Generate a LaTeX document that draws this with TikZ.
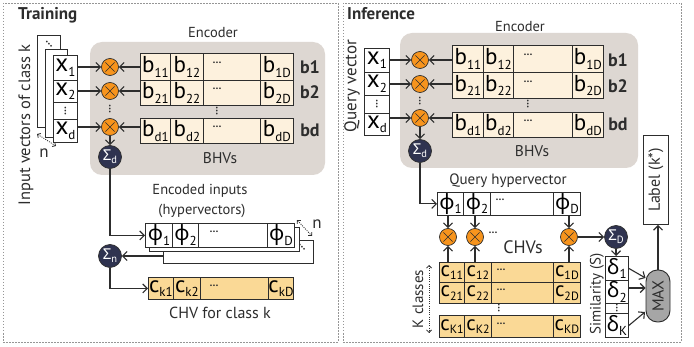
\documentclass[tikz,border=0pt]{standalone}
\usepackage{fontspec}
\setmainfont{PT Sans}
\newfontfamily\gk{Noto Sans}
\usetikzlibrary{arrows.meta,calc}
\definecolor{ink}{RGB}{45,45,45}
\definecolor{encbg}{RGB}{221,215,210}
\definecolor{bfill}{RGB}{253,241,221}
\definecolor{cfill}{RGB}{250,217,150}
\definecolor{orng}{RGB}{247,148,29}
\definecolor{navy}{RGB}{47,51,80}
\definecolor{maxg}{RGB}{166,166,166}
\definecolor{brd}{RGB}{150,150,150}
\newcommand\vsub[3][23]{{\fontsize{#1}{#1}\selectfont #2}\raisebox{-4.5pt}{\fontsize{13}{13}\selectfont #3}}
\newcommand\csub[2]{{\fontsize{21}{21}\selectfont #1}\raisebox{-3.5pt}{\fontsize{12}{12}\selectfont #2}}
\newcommand\sig[1]{{\gk\fontsize{15}{15}\selectfont Σ}\raisebox{-3pt}{\fontsize{10.5}{10.5}\selectfont #1}}
\begin{document}
\begin{tikzpicture}[x=1pt,y=-1pt,
  cell/.style={draw=ink,line width=0.9pt,inner sep=0pt,anchor=north west,fill=white},
  bcell/.style={cell,fill=bfill},
  ccell/.style={cell,fill=cfill},
  arr/.style={draw=ink,line width=1.1pt,-{Straight Barb[length=4.5pt,width=9pt,line width=1.1pt]}},
  dimarr/.style={draw=ink,line width=0.8pt,dash pattern=on 1pt off 1.2pt,{Straight Barb[length=2.5pt,width=5pt,line width=0.8pt]}-{Straight Barb[length=2.5pt,width=5pt,line width=0.8pt]}},
  mul/.style={circle,fill=orng,draw=ink,line width=0.7pt,minimum size=17pt,inner sep=0pt,
    path picture={\draw[ink,line width=0.6pt]
      ($(path picture bounding box.center)+(-4.6pt,-4.6pt)$) -- ($(path picture bounding box.center)+(4.6pt,4.6pt)$)
      ($(path picture bounding box.center)+(-4.6pt,4.6pt)$) -- ($(path picture bounding box.center)+(4.6pt,-4.6pt)$);}},
  sum/.style={circle,fill=navy,draw=ink,line width=0.7pt,minimum size=23pt,inner sep=0pt,text=white},
  txt/.style={inner sep=0pt,font=\fontsize{14.5}{14.5}\selectfont,text=ink},
  lbl/.style={inner sep=0pt,font=\fontsize{18}{18}\selectfont\bfseries,text=ink},
  dts/.style={inner sep=0pt,font=\fontsize{11}{11}\selectfont\bfseries,text=ink},
  panel/.style={draw=brd,line width=0.8pt,dash pattern=on 1.5pt off 1.5pt}
]
\useasboundingbox (0,0) rectangle (694,347);
\fill[white] (0,0) rectangle (694,347);
% panels
\draw[panel] (3,3) rectangle (338,342);
\draw[panel] (343,3) rectangle (681,342);
\node[anchor=west,inner sep=0pt,font=\fontsize{17}{17}\selectfont\bfseries,text=ink] (ttrain) at (18,15) {Training};
\node[anchor=west,inner sep=0pt,font=\fontsize{17}{17}\selectfont\bfseries,text=ink] (tinf) at (347,14) {Inference};

% ================= LEFT: TRAINING =================
\fill[encbg,rounded corners=12pt] (90,42) rectangle (325,175);
\node[txt] (lenc) at (213,33) {Encoder};
\node[txt,font=\fontsize{15.5}{15.5}\selectfont] (lbhv) at (220,158) {BHVs};
\node[txt,font=\fontsize{16.5}{16.5}\selectfont,rotate=90] (linput) at (26,125) {Input vectors of class k};

% input stack
\node[cell,minimum width=23pt,minimum height=92pt] (lback) at (37,35) {};
\node[dts,rotate=-45] (lbackdots) at (49,44) {…};
\node[cell,minimum width=22pt,minimum height=88pt] (lmid) at (45,49) {};
\node[cell,minimum width=24pt,minimum height=25pt] (lx1) at (53,55) {\vsub[25]{x}{1}};
\node[cell,minimum width=24pt,minimum height=22pt] (lx2) at (53,80) {\vsub[25]{x}{2}};
\node[cell,minimum width=24pt,minimum height=17pt] (lx3) at (53,102) {};
\node[dts,rotate=90] (lx3d) at (lx3) {…};
\node[cell,minimum width=24pt,minimum height=23pt] (lxd) at (53,119) {\vsub[25]{x}{d}};
\draw[dimarr] (37,134) coordinate (ln1) -- (56,146) coordinate (ln2);
\node[txt,font=\fontsize{17}{17}\selectfont] (lnlab) at (44,153) {n};

% multipliers
\node[mul] (lm1) at (110,67) {};
\node[mul] (lm2) at (110,91) {};
\node[mul] (lmd) at (110,127) {};
\node[dts,rotate=90] (lmdots) at (110,109) {…};
\node[sum] (lsd) at (110,157) {\sig{d}};

% BHV rows
\node[bcell,minimum width=30pt,minimum height=27pt] (lb11) at (140,53) {\vsub{b}{11}};
\node[bcell,minimum width=33pt,minimum height=27pt] (lb12) at (170,53) {\vsub{b}{12}};
\node[bcell,minimum width=57pt,minimum height=27pt] (lb13) at (203,53) {};
\node[bcell,minimum width=33pt,minimum height=27pt] (lb1D) at (260,53) {\vsub{b}{1D}};
\node[bcell,minimum width=30pt,minimum height=25pt] (lb21) at (140,80) {\vsub{b}{21}};
\node[bcell,minimum width=33pt,minimum height=25pt] (lb22) at (170,80) {\vsub{b}{22}};
\node[bcell,minimum width=57pt,minimum height=25pt] (lb23) at (203,80) {};
\node[bcell,minimum width=33pt,minimum height=25pt] (lb2D) at (260,80) {\vsub{b}{2D}};
\node[bcell,minimum width=30pt,minimum height=25pt] (lbd1) at (140,118) {\vsub{b}{d1}};
\node[bcell,minimum width=33pt,minimum height=25pt] (lbd2) at (170,118) {\vsub{b}{d2}};
\node[bcell,minimum width=57pt,minimum height=25pt] (lbd3) at (203,118) {};
\node[bcell,minimum width=33pt,minimum height=25pt] (lbdD) at (260,118) {\vsub{b}{dD}};
\node[dts] (lb13d) at ([xshift=14pt,yshift=4pt]lb13.west) {…};
\node[dts] (lb23d) at ([xshift=14pt,yshift=4pt]lb23.west) {…};
\node[dts] (lbd3d) at ([xshift=14pt,yshift=4pt]lbd3.west) {…};
\node[dts,rotate=90] (lbvd) at (217,111) {…};
\node[lbl] (lbl1) at (310,67) {b1};
\node[lbl] (lbl2) at (310,92) {b2};
\node[lbl] (lbld) at (310,130) {bd};

\draw[arr] (lx1.east |- lm1) -- (lm1);
\draw[arr] (lx2.east |- lm2) -- (lm2);
\draw[arr] (lxd.east |- lmd) -- (lmd);
\draw[arr] (lb11.west |- lm1) -- (lm1);
\draw[arr] (lb21.west |- lm2) -- (lm2);
\draw[arr] (lbd1.west |- lmd) -- (lmd);
\draw[arr] (lmd) -- (lsd);

% encoded inputs
\node[txt] (lenc1) at (200,191) {Encoded inputs};
\node[txt] (lenc2) at (202,211) {(hypervectors)};
\node[cell,minimum width=150pt,minimum height=23pt] (lay3) at (163,240) {};
\node[cell,minimum width=150pt,minimum height=24pt] (lay2) at (149,227) {};
\node[cell,minimum width=27pt,minimum height=24pt] (lp1) at (145,223) {\vsub[21]{\gk ϕ}{1}};
\node[cell,minimum width=26pt,minimum height=24pt] (lp2) at (172,223) {\vsub[21]{\gk ϕ}{2}};
\node[cell,minimum width=69pt,minimum height=24pt] (lp3) at (198,223) {};
\node[cell,minimum width=27pt,minimum height=24pt] (lpD) at (267,223) {\vsub[21]{\gk ϕ}{D}};
\node[dts] (lp3d) at ([xshift=16pt,yshift=4pt]lp3.west) {…};
\node[dts,rotate=-45] (laydots) at (302,247) {…};
\draw[dimarr] (297,220) coordinate (lm1a) -- (312,236) coordinate (lm1b);
\node[txt,font=\fontsize{17}{17}\selectfont] (lnlab2) at (317,224) {n};
\draw[arr] (lsd) |- (lp1.west);

\node[sum] (lsn) at (110,256) {\sig{n}};
\draw[arr] (lay3.west |- lsn) -- (lsn);

\node[ccell,minimum width=25pt,minimum height=22pt] (lc1) at (148,277) {\vsub{c}{k1}};
\node[ccell,minimum width=27pt,minimum height=22pt] (lc2) at (173,277) {\vsub{c}{k2}};
\node[ccell,minimum width=68pt,minimum height=22pt] (lc3) at (200,277) {};
\node[ccell,minimum width=25pt,minimum height=22pt] (lcD) at (268,277) {\vsub{c}{kD}};
\node[dts] (lc3d) at ([xshift=14pt,yshift=3pt]lc3.west) {…};
\draw[arr] (lsn) |- (lc1.west);
\node[txt,font=\fontsize{16}{16}\selectfont] (lchv) at (220,313) {CHV for class k};

% ================= RIGHT: INFERENCE =================
\fill[encbg,rounded corners=12pt] (400,33) rectangle (638,168);
\node[txt] (renc) at (520,27) {Encoder};
\node[txt,font=\fontsize{15.5}{15.5}\selectfont] (rbhv) at (532,151) {BHVs};
\node[txt,font=\fontsize{17}{17}\selectfont,rotate=90] (rquery) at (352,86) {Query vector};

\node[cell,minimum width=25pt,minimum height=24pt] (rx1) at (364,48) {\vsub[25]{x}{1}};
\node[cell,minimum width=25pt,minimum height=23pt] (rx2) at (364,72) {\vsub[25]{x}{2}};
\node[cell,minimum width=25pt,minimum height=18pt] (rx3) at (364,95) {};
\node[dts,rotate=90] (rx3d) at (rx3) {…};
\node[cell,minimum width=25pt,minimum height=22pt] (rxd) at (364,113) {\vsub[25]{x}{d}};

\node[mul] (rm1) at (420,60) {};
\node[mul] (rm2) at (420,84) {};
\node[mul] (rmd) at (420,118) {};
\node[dts,rotate=90] (rmdots) at (420,101) {…};
\node[sum] (rsd) at (420,151) {\sig{d}};

\node[bcell,minimum width=31pt,minimum height=27pt] (rb11) at (452,45) {\vsub{b}{11}};
\node[bcell,minimum width=30pt,minimum height=27pt] (rb12) at (483,45) {\vsub{b}{12}};
\node[bcell,minimum width=59pt,minimum height=27pt] (rb13) at (513,45) {};
\node[bcell,minimum width=31pt,minimum height=27pt] (rb1D) at (572,45) {\vsub{b}{1D}};
\node[bcell,minimum width=31pt,minimum height=26pt] (rb21) at (452,72) {\vsub{b}{21}};
\node[bcell,minimum width=30pt,minimum height=26pt] (rb22) at (483,72) {\vsub{b}{22}};
\node[bcell,minimum width=59pt,minimum height=26pt] (rb23) at (513,72) {};
\node[bcell,minimum width=31pt,minimum height=26pt] (rb2D) at (572,72) {\vsub{b}{2D}};
\node[bcell,minimum width=31pt,minimum height=25pt] (rbd1) at (452,112) {\vsub{b}{d1}};
\node[bcell,minimum width=30pt,minimum height=25pt] (rbd2) at (483,112) {\vsub{b}{d2}};
\node[bcell,minimum width=59pt,minimum height=25pt] (rbd3) at (513,112) {};
\node[bcell,minimum width=31pt,minimum height=25pt] (rbdD) at (572,112) {\vsub{b}{dD}};
\node[dts] (rb13d) at ([xshift=15pt,yshift=4pt]rb13.west) {…};
\node[dts] (rb23d) at ([xshift=15pt,yshift=4pt]rb23.west) {…};
\node[dts] (rbd3d) at ([xshift=15pt,yshift=4pt]rbd3.west) {…};
\node[dts,rotate=90] (rbvd) at (528,104) {…};
\node[lbl] (rbl1) at (618,60) {b1};
\node[lbl] (rbl2) at (618,86) {b2};
\node[lbl] (rbld) at (618,124) {bd};

\draw[arr] (rx1.east |- rm1) -- (rm1);
\draw[arr] (rx2.east |- rm2) -- (rm2);
\draw[arr] (rxd.east |- rmd) -- (rmd);
\draw[arr] (rb11.west |- rm1) -- (rm1);
\draw[arr] (rb21.west |- rm2) -- (rm2);
\draw[arr] (rbd1.west |- rmd) -- (rmd);
\draw[arr] (rmd) -- (rsd);

% query hypervector
\node[txt,font=\fontsize{15}{15}\selectfont] (rqh) at (508,181) {Query hypervector};
\node[cell,minimum width=26pt,minimum height=23pt] (qp1) at (437,192) {\vsub[21]{\gk ϕ}{1}};
\node[cell,minimum width=27pt,minimum height=23pt] (qp2) at (463,192) {\vsub[21]{\gk ϕ}{2}};
\node[cell,minimum width=63pt,minimum height=23pt] (qp3) at (490,192) {};
\node[cell,minimum width=27pt,minimum height=23pt] (qpD) at (553,192) {\vsub[21]{\gk ϕ}{D}};
\node[dts] (qp3d) at ([xshift=10pt,yshift=4pt]qp3.west) {…};
\draw[arr] (rsd) |- (qp1.west);

\node[mul] (cm1) at (448,237) {};
\node[mul] (cm2) at (475,237) {};
\node[mul] (cmD) at (569,237) {};
\node[dts] (cmdots) at (493,233) {…};
\node[txt,font=\fontsize{18}{18}\selectfont] (rchvs) at (523,247) {CHVs};

\node[ccell,minimum width=25pt,minimum height=20pt] (cc11) at (439,262) {\csub{c}{11}};
\node[ccell,minimum width=27pt,minimum height=20pt] (cc12) at (464,262) {\csub{c}{12}};
\node[ccell,minimum width=62pt,minimum height=20pt] (cc13) at (491,262) {};
\node[ccell,minimum width=27pt,minimum height=20pt] (cc1D) at (553,262) {\csub{c}{1D}};
\node[ccell,minimum width=25pt,minimum height=21pt] (cc21) at (439,282) {\csub{c}{21}};
\node[ccell,minimum width=27pt,minimum height=21pt] (cc22) at (464,282) {\csub{c}{22}};
\node[ccell,minimum width=62pt,minimum height=21pt] (cc23) at (491,282) {};
\node[ccell,minimum width=27pt,minimum height=21pt] (cc2D) at (553,282) {\csub{c}{2D}};
\node[ccell,minimum width=25pt,minimum height=22pt] (ccK1) at (439,315) {\csub{c}{K1}};
\node[ccell,minimum width=27pt,minimum height=22pt] (ccK2) at (464,315) {\csub{c}{K2}};
\node[ccell,minimum width=62pt,minimum height=22pt] (ccK3) at (491,315) {};
\node[ccell,minimum width=27pt,minimum height=22pt] (ccKD) at (553,315) {\csub{c}{KD}};
\node[dts] (cc13d) at ([xshift=10pt,yshift=3pt]cc13.west) {…};
\node[dts] (cc23d) at ([xshift=10pt,yshift=3pt]cc23.west) {…};
\node[dts] (ccK3d) at ([xshift=10pt,yshift=3pt]ccK3.west) {…};
\node[dts,rotate=90] (ccvd) at (499,308) {…};

\draw[arr] (qp1.south -| cm1) -- (cm1);
\draw[arr] (qp2.south -| cm2) -- (cm2);
\draw[arr] (qpD.south -| cmD) -- (cmD);
\draw[arr] (cc11.north -| cm1) -- (cm1);
\draw[arr] (cc12.north -| cm2) -- (cm2);
\draw[arr] (cc1D.north -| cmD) -- (cmD);

\node[txt,font=\fontsize{15}{15}\selectfont,rotate=90] (rkcl) at (418,299) {K classes};
\draw[dimarr] (429,265) coordinate (rk1) -- (429,333) coordinate (rk2);

% similarity
\node[sum] (sD) at (616,237) {\sig{D}};
\draw[arr] (cmD) -- (sD);
\node[cell,minimum width=23pt,minimum height=24pt] (dl1) at (605,256) {\vsub[21]{\gk δ}{1}};
\node[cell,minimum width=23pt,minimum height=23pt] (dl2) at (605,280) {\vsub[21]{\gk δ}{2}};
\node[cell,minimum width=23pt,minimum height=10pt] (dl3) at (605,303) {};
\node[dts,rotate=90] (dl3d) at (dl3) {…};
\node[cell,minimum width=23pt,minimum height=24pt] (dlK) at (605,313) {\vsub[21]{\gk δ}{K}};
\draw[arr] (sD) -- (sD |- dl1.north);
\node[txt,font=\fontsize{15}{15}\selectfont,rotate=90] (rsim) at (597,294) {Similarity (S)};

\node[draw=ink,line width=0.9pt,fill=maxg,rounded corners=11.5pt,minimum width=52pt,minimum height=24pt,inner sep=0pt,rotate=90,font=\fontsize{16}{16}\selectfont,text=ink] (mx) at (658,296) {MAX};
\node[draw=ink,line width=0.9pt,fill=white,minimum width=89pt,minimum height=25pt,inner sep=0pt,rotate=90,font=\fontsize{16}{16}\selectfont,text=ink] (lab) at (656,180) {Label (k*)};
\draw[arr] (mx) -- (mx |- lab.west);
\draw[arr] (dl1.east) -- ($(mx.center)+(-12.5,-18)$);
\draw[arr] (dl2.east |- 0,288) -- ($(mx.center)+(-12.5,-8)$);
\draw[arr] (dlK.east) -- ($(mx.center)+(-13,16)$);
\end{tikzpicture}
\end{document}
